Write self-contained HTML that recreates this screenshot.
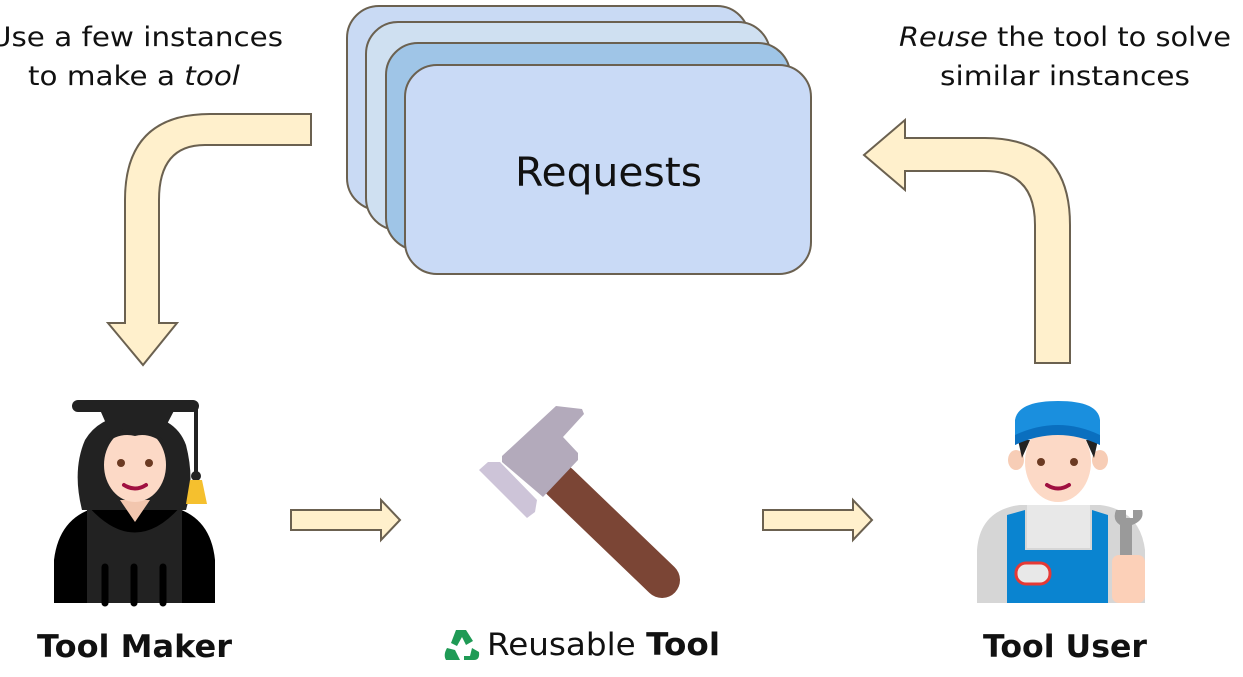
<!DOCTYPE html>
<html><head><meta charset="utf-8"><style>
html,body{margin:0;padding:0;background:#fff;}
svg{display:block;}
text{font-family:"DejaVu Sans","Liberation Sans",sans-serif;}
</style></head><body>
<svg width="1243" height="677" viewBox="0 0 1243 677" xmlns="http://www.w3.org/2000/svg">
<!-- top texts -->
<text x="-10" y="46" font-size="27" textLength="293" lengthAdjust="spacingAndGlyphs" fill="#111">Use a few instances</text>
<text x="28" y="85" font-size="27" textLength="212" lengthAdjust="spacingAndGlyphs" fill="#111">to make a <tspan font-style="italic">tool</tspan></text>
<text x="899" y="46" font-size="27" textLength="332" lengthAdjust="spacingAndGlyphs" fill="#111"><tspan font-style="italic">Reuse</tspan> the tool to solve</text>
<text x="940" y="85" font-size="27" textLength="250" lengthAdjust="spacingAndGlyphs" fill="#111">similar instances</text>

<!-- requests stack -->
<g stroke="#6b6150" stroke-width="2">
<rect x="347" y="6" width="402" height="204" rx="32" fill="#c9daf4"/>
<rect x="366" y="22" width="404" height="208" rx="32" fill="#cfe0f1"/>
<rect x="386" y="43" width="404" height="207" rx="32" fill="#9fc5e7"/>
<rect x="405" y="65" width="406" height="209" rx="32" fill="#c9daf6"/>
</g>
<text x="515" y="186" font-size="40" textLength="187" lengthAdjust="spacingAndGlyphs" fill="#111">Requests</text>

<!-- left curved arrow -->
<path d="M311,114 L210,114 Q125,114 125,200 L125,323 L108,323 L143,365 L177,323 L159,323 L159,200 Q159,145 205,145 L311,145 Z" fill="#fff0cc" stroke="#6b6150" stroke-width="2"/>
<!-- right curved arrow -->
<path d="M1070,363 L1070,225 Q1070,138 985,138 L905,138 L905,120 L864,155 L905,190 L905,171 L985,171 Q1035,171 1035,225 L1035,363 Z" fill="#fff0cc" stroke="#6b6150" stroke-width="2"/>

<!-- small arrows -->
<path d="M291,510 L381,510 L381,500 L400,520 L381,540 L381,530 L291,530 Z" fill="#fff0cc" stroke="#6b6150" stroke-width="2"/>
<path d="M763,510 L853,510 L853,500 L872,520 L853,540 L853,530 L763,530 Z" fill="#fff0cc" stroke="#6b6150" stroke-width="2"/>

<!-- hammer -->
<path d="M560,482 L662,580" stroke="#7b4535" stroke-width="36" stroke-linecap="round"/>
<polygon points="556,406 582,409 584,414 563,437 578,453 578,460 543,497 502,462 502,456" fill="#b3aabb"/>
<polygon points="479,470 488,462 500,462 537,500 535,512 527,518" fill="#cdc4d8"/>

<!-- Graduate -->
<g>
<path d="M54,603 L54,560 Q60,510 110,505 L160,505 Q210,510 215,560 L215,603 Z" fill="#000"/>
<rect x="87" y="505" width="95" height="98" fill="#222"/>
<path d="M87,505 Q135,560 182,505 Z" fill="#000"/>
<g stroke="#000" stroke-width="7" stroke-linecap="round"><line x1="105" y1="567" x2="105" y2="603"/><line x1="134" y1="567" x2="134" y2="603"/><line x1="163" y1="567" x2="163" y2="603"/></g>
<path d="M82,510 Q72,470 85,440 Q100,415 135,415 Q175,415 186,445 Q195,480 186,510 Z" fill="#222"/>
<path d="M120,500 L135,522 L150,500 Z" fill="#f2c6ae"/>
<ellipse cx="135" cy="465" rx="31" ry="37" fill="#fcd9c6"/>
<path d="M104,445 Q120,425 135,428 Q155,425 166,445 Q150,432 135,436 Q118,432 104,445Z" fill="#222"/>
<circle cx="121" cy="463" r="4" fill="#6b3a22"/><circle cx="149" cy="463" r="4" fill="#6b3a22"/>
<path d="M124,485 Q135,492 146,485" stroke="#a01040" stroke-width="4" fill="none" stroke-linecap="round"/>
<path d="M97,403 L178,403 L165,428 L108,428 Z" fill="#222"/>
<rect x="72" y="400" width="127" height="12" rx="6" fill="#222"/>
<line x1="196" y1="405" x2="196" y2="475" stroke="#222" stroke-width="4"/>
<circle cx="196" cy="476" r="5" fill="#222"/>
<path d="M190,480 L202,480 L207,504 L186,504 Z" fill="#f5c02e"/>
</g>

<!-- Worker -->
<g>
<path d="M977,603 L977,550 Q980,510 1020,505 L1100,505 Q1140,510 1145,550 L1145,603 Z" fill="#d6d6d6"/>
<path d="M1027,505 L1090,505 L1090,548 L1027,548 Z" fill="#e8e8e8"/>
<path d="M1007,515 L1025,510 L1025,550 L1092,550 L1092,510 L1108,515 L1108,603 L1007,603 Z" fill="#0a84d0"/>
<rect x="1016" y="563" width="34" height="21" rx="10" fill="#e8e8e8" stroke="#e53935" stroke-width="3"/>
<ellipse cx="1016" cy="460" rx="8" ry="10" fill="#f7cdb6"/><ellipse cx="1100" cy="460" rx="8" ry="10" fill="#f7cdb6"/>
<ellipse cx="1058" cy="462" rx="33" ry="40" fill="#fcd9c6"/>
<path d="M1018,440 L1022,458 L1030,440 Z M1098,440 L1094,458 L1086,440 Z" fill="#222"/>
<circle cx="1041" cy="462" r="4" fill="#6b3a22"/><circle cx="1074" cy="462" r="4" fill="#6b3a22"/>
<path d="M1047,485 Q1058,492 1069,485" stroke="#a01040" stroke-width="4" fill="none" stroke-linecap="round"/>
<path d="M1015,445 L1015,420 Q1018,401 1058,401 Q1098,401 1100,420 L1100,445 Q1058,420 1015,445 Z" fill="#1a8fde"/>
<path d="M1015,445 Q1058,425 1100,445 L1100,435 Q1058,415 1015,435 Z" fill="#0a6fbf"/>
<path d="M1120,525 L1120,560 L1132,560 L1132,525 Q1145,520 1142,510 L1133,510 L1133,518 L1126,518 L1126,510 L1116,510 Q1112,520 1120,525 Z" fill="#9a9a9a"/>
<rect x="1112" y="555" width="33" height="48" rx="7" fill="#fcd0b8"/>
</g>

<!-- labels -->
<text x="37" y="657" font-size="31" font-weight="bold" textLength="195" lengthAdjust="spacingAndGlyphs" fill="#111">Tool Maker</text>
<text x="983" y="657" font-size="31" font-weight="bold" textLength="164" lengthAdjust="spacingAndGlyphs" fill="#111">Tool User</text>
<text x="487" y="655" font-size="31" textLength="233" lengthAdjust="spacingAndGlyphs" fill="#111">Reusable <tspan font-weight="bold">Tool</tspan></text>
<g fill="#1f9a55">
<path d="M456,630 L466,630 L473,641 L466,645 L462,637 L457,646 L451,643 Z"/>
<path d="M447,648 L455,650 L460,660 L446,660 Q443,655 447,648 Z"/>
<path d="M472,648 L479,652 Q480,660 474,660 L464,660 L464,656 L470,656 Z"/>
</g>
</svg>
</body></html>
